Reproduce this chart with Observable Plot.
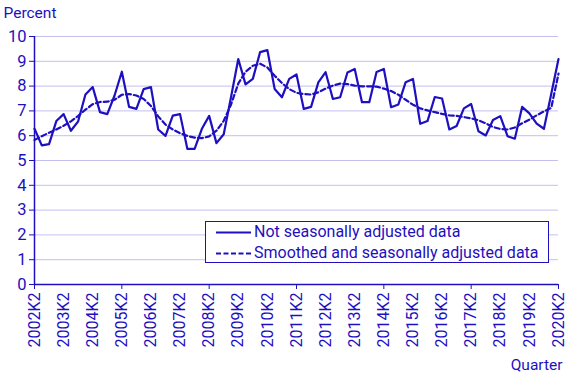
<!DOCTYPE html>
<html><head><meta charset="utf-8">
<script src="https://cdn.jsdelivr.net/npm/d3@7"></script>
<script src="https://cdn.jsdelivr.net/npm/@observablehq/plot@0.6"></script>
<style>
body{margin:0;background:#fff;font-family:Roboto,sans-serif;}
#wrap{position:relative;width:567px;height:378px;overflow:hidden;}
#legend{position:absolute;left:205px;top:221px;width:342px;height:40px;border:1px solid #1e10c0;background:#fff;color:#1e10c0;font-family:Roboto,sans-serif;font-size:16px;}
#legend .row{position:relative;height:21px;line-height:21px;}
#legend svg{position:absolute;left:10px;top:0;}
#legend span{position:absolute;left:48px;top:-1px;white-space:nowrap;}
</style></head><body><div id="wrap"></div>
<script>
const color = "#1e10c0";
const gridColor = "#c4c0ee";
const tickLabels = ["2002K2","2003K2","2004K2","2005K2","2006K2","2007K2","2008K2","2009K2","2010K2","2011K2","2012K2","2013K2","2014K2","2015K2","2016K2","2017K2","2018K2","2019K2","2020K2"];
const yTicks = [0,1,2,3,4,5,6,7,8,9,10];
const seriesNames = ["Not seasonally adjusted data","Smoothed and seasonally adjusted data"];
const notAdjusted = [6.28,5.61,5.66,6.59,6.87,6.2,6.58,7.66,7.96,6.95,6.87,7.62,8.58,7.16,7.08,7.88,7.96,6.25,5.99,6.81,6.87,5.47,5.47,6.28,6.8,5.7,6.06,7.55,9.09,8.07,8.29,9.37,9.45,7.88,7.55,8.29,8.47,7.08,7.16,8.15,8.56,7.48,7.55,8.55,8.69,7.35,7.35,8.57,8.69,7.15,7.26,8.16,8.29,6.48,6.59,7.56,7.5,6.25,6.39,7.1,7.28,6.18,6.01,6.63,6.79,5.98,5.88,7.16,6.9,6.49,6.28,7.68,9.09];
const smoothed = [5.83,5.98,6.12,6.25,6.4,6.58,6.8,7.05,7.27,7.36,7.37,7.45,7.65,7.68,7.62,7.48,7.2,6.78,6.45,6.25,6.1,5.99,5.92,5.9,5.97,6.2,6.6,7.25,8.1,8.58,8.82,8.9,8.75,8.42,8.12,7.88,7.73,7.68,7.66,7.75,7.9,8.02,8.1,8.08,8.02,7.99,7.99,7.98,7.9,7.8,7.65,7.45,7.25,7.1,7.02,6.95,6.88,6.82,6.8,6.75,6.7,6.62,6.5,6.35,6.27,6.25,6.33,6.5,6.65,6.82,6.98,7.12,8.5];

const data = notAdjusted.map((v, i) => ({i, v, s: smoothed[i]}));
const labelIdx = tickLabels.map((_, k) => k * 4);
const markIdx = labelIdx.filter((_, k) => k % 3 === 0);

const plot = Plot.plot({
  width: 567, height: 378,
  marginLeft: 34, marginRight: 9, marginTop: 36, marginBottom: 94,
  style: {fontFamily: "Roboto, sans-serif", fontSize: "16px", color: color, background: "transparent", overflow: "visible"},
  x: {domain: [0, 72]},
  y: {domain: [0, 10]},
  marks: [
    Plot.gridY(yTicks, {stroke: gridColor, strokeOpacity: 1}),
    Plot.axisY({ticks: yTicks, tickSize: 5, tickPadding: 3, label: null, fontSize: 16.5}),
    Plot.axisX({ticks: labelIdx, tickSize: 0, tickPadding: 8, tickRotate: -90, tickFormat: i => tickLabels[Math.round(i / 4)], label: null, fontSize: 16}),
    Plot.axisX({ticks: markIdx, tickSize: 5, tickFormat: () => "", label: null}),
    Plot.ruleX([0], {stroke: color, strokeWidth: 1.5}),
    Plot.ruleY([0], {stroke: color, strokeWidth: 1.5}),
    Plot.line(data, {x: "i", y: "v", stroke: color, strokeWidth: 2.2}),
    Plot.line(data, {x: "i", y: "s", stroke: color, strokeWidth: 2.2, strokeDasharray: "5,3"}),
    Plot.text(["Percent"], {frameAnchor: "top-left", dx: -31, dy: -23.5, textAnchor: "start", lineAnchor: "middle", fill: color, fontSize: 15.5}),
    Plot.text(["Quarter"], {frameAnchor: "bottom-right", dx: 4, dy: 81, textAnchor: "end", lineAnchor: "middle", fill: color, fontSize: 15.5})
  ]
});
const wrap = document.getElementById("wrap");
wrap.appendChild(plot);

const legend = document.createElement("div");
legend.id = "legend";
legend.innerHTML = seriesNames.map((name, k) => `<div class="row"><svg width="36" height="21"><line x1="0" x2="35" y1="10.5" y2="10.5" stroke="${color}" stroke-width="2" ${k ? 'stroke-dasharray="5,2.5"' : ''}/></svg><span>${name}</span></div>`).join("");
wrap.appendChild(legend);
</script>
</body></html>
